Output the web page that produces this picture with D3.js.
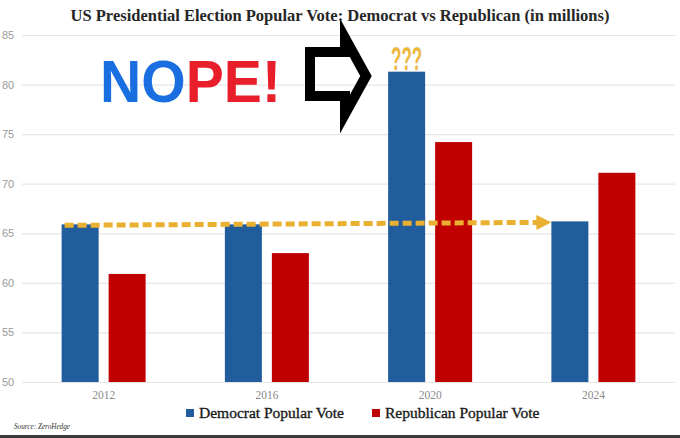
<!DOCTYPE html>
<html>
<head>
<meta charset="utf-8">
<script src="https://cdn.jsdelivr.net/npm/d3@7"></script>
<style>
  html, body { margin: 0; padding: 0; background: #fff; }
  svg { display: block; }
</style>
</head>
<body>
<script>
// chart values (millions of votes)
const years = ["2012", "2016", "2020", "2024"];
const demVotes = [65.9, 65.9, 81.3, 66.2];
const repVotes = [60.9, 63.0, 74.2, 71.1];
const yTicks = [50, 55, 60, 65, 70, 75, 80, 85];
const seriesNames = ["Democrat Popular Vote", "Republican Popular Vote"];
const seriesColors = ["#215c9c", "#c00000"];

const W = 680, H = 438;

const svg = d3.select("body").append("svg")
  .attr("width", W)
  .attr("height", H);

// scales
const x0 = d3.scaleBand()
  .domain(years)
  .range([22, 675]);

const x1 = d3.scaleBand()
  .domain(seriesNames)
  .range([x0.bandwidth() / 2 - 42, x0.bandwidth() / 2 + 42])
  .paddingInner(0.2128);

const y = d3.scaleLinear()
  .domain([50, 85])
  .range([382, 35]);

// gridlines
svg.append("g")
  .attr("transform", "translate(22,0)")
  .call(d3.axisLeft(y).tickValues(yTicks).tickSize(-653).tickFormat(""))
  .call(g => g.select(".domain").remove())
  .call(g => g.selectAll("line").attr("stroke", "#e6e6e6").attr("stroke-width", 1.2));

// y tick labels
svg.append("g")
  .selectAll("text")
  .data(yTicks)
  .enter()
  .append("text")
  .attr("x", 2)
  .attr("y", d => y(d) + 4)
  .attr("font-family", "Liberation Sans, Arial, sans-serif")
  .attr("font-size", 11)
  .attr("fill", "#9a9a9a")
  .text(d => d);

// bars
const rows = years.map((yr, i) => ({ year: yr, values: [demVotes[i], repVotes[i]] }));

const groups = svg.selectAll(".yr")
  .data(rows)
  .enter()
  .append("g")
  .attr("class", "yr")
  .attr("transform", d => "translate(" + x0(d.year) + ",0)");

groups.selectAll("rect")
  .data(d => d.values.map((v, k) => ({ name: seriesNames[k], value: v, color: seriesColors[k] })))
  .enter()
  .append("rect")
  .attr("x", d => x1(d.name))
  .attr("y", d => y(d.value))
  .attr("width", x1.bandwidth())
  .attr("height", d => y(50) - y(d.value))
  .attr("fill", d => d.color);

// x labels
svg.append("g")
  .selectAll("text")
  .data(years)
  .enter()
  .append("text")
  .attr("x", d => x0(d) + x0.bandwidth() / 2)
  .attr("y", 399)
  .attr("text-anchor", "middle")
  .attr("font-family", "Liberation Serif, Times New Roman, serif")
  .attr("font-size", 11.5)
  .attr("fill", "#8a8a8a")
  .text(d => d);

// title
svg.append("text")
  .attr("x", 340)
  .attr("y", 21)
  .attr("text-anchor", "middle")
  .attr("font-family", "Liberation Serif, Times New Roman, serif")
  .attr("font-weight", "bold")
  .attr("font-size", 16.5)
  .attr("fill", "#262626")
  .text("US Presidential Election Popular Vote: Democrat vs Republican (in millions)");

// legend
const legend = svg.append("g");
const legendX = [186, 372];
seriesNames.forEach((name, k) => {
  legend.append("rect")
    .attr("x", legendX[k])
    .attr("y", 409)
    .attr("width", 8)
    .attr("height", 8)
    .attr("fill", seriesColors[k]);
  legend.append("text")
    .attr("x", legendX[k] + 13)
    .attr("y", 418)
    .attr("font-family", "Liberation Serif, Times New Roman, serif")
    .attr("font-size", 15.5)
    .attr("fill", "#1a1a1a")
    .attr("stroke", "#1a1a1a")
    .attr("stroke-width", 0.35)
    .text(name);
});

// dashed gold arrow: 2012 dem level carried to 2024
const defs = svg.append("defs");
defs.append("marker")
  .attr("id", "goldHead")
  .attr("viewBox", "0 0 10 10")
  .attr("refX", 2)
  .attr("refY", 5)
  .attr("markerWidth", 3)
  .attr("markerHeight", 3)
  .attr("orient", "auto")
  .append("path")
  .attr("d", "M0,0 L10,5 L0,10 Z")
  .attr("fill", "#e9b031");

const ax1 = x0(years[0]) + x1(seriesNames[0]) + 3;
const ax2 = x0(years[3]) + x1(seriesNames[0]) - 12;
svg.append("line")
  .attr("x1", ax1)
  .attr("y1", y(demVotes[0]) + 1)
  .attr("x2", ax2)
  .attr("y2", y(demVotes[3]) + 1)
  .attr("stroke", "#e9b031")
  .attr("stroke-width", 5)
  .attr("stroke-dasharray", "9,4")
  .attr("marker-end", "url(#goldHead)");

// NOPE!
const nope = svg.append("text")
  .attr("x", 100)
  .attr("y", 102)
  .attr("font-family", "Liberation Sans, Arial, sans-serif")
  .attr("font-weight", "bold")
  .attr("font-size", 60)
  .attr("textLength", 181)
  .attr("lengthAdjust", "spacingAndGlyphs");
nope.append("tspan").attr("fill", "#1a6fe0").text("NO");
nope.append("tspan").attr("fill", "#e81e2a").text("PE!");

// hollow black arrow
svg.append("path")
  .attr("d", "M310,52 L345,52 L345,38 L366,76 L345,114 L345,96 L310,96 Z")
  .attr("fill", "none")
  .attr("stroke", "#000")
  .attr("stroke-width", 10)
  .attr("stroke-linejoin", "miter")
  .attr("stroke-miterlimit", 10);

// ??? over the 2020 dem bar
svg.append("text")
  .attr("x", x0(years[2]) + x1(seriesNames[0]) + x1.bandwidth() / 2)
  .attr("y", 70)
  .attr("text-anchor", "middle")
  .attr("font-family", "Liberation Sans, Arial, sans-serif")
  .attr("font-weight", "bold")
  .attr("font-size", 33)
  .attr("textLength", 31)
  .attr("lengthAdjust", "spacingAndGlyphs")
  .attr("fill", "#f0b52e")
  .attr("stroke", "#d9d9d9")
  .attr("stroke-width", 0.4)
  .text("???");

// source
svg.append("text")
  .attr("x", 14)
  .attr("y", 429)
  .attr("font-family", "Liberation Serif, Times New Roman, serif")
  .attr("font-style", "italic")
  .attr("font-size", 8)
  .attr("textLength", 56)
  .attr("lengthAdjust", "spacingAndGlyphs")
  .attr("fill", "#333")
  .text("Source: ZeroHedge");

// bottom frame line
svg.append("rect")
  .attr("x", 0)
  .attr("y", 435)
  .attr("width", W)
  .attr("height", 3)
  .attr("fill", "#3a3a3a");
</script>
</body>
</html>
